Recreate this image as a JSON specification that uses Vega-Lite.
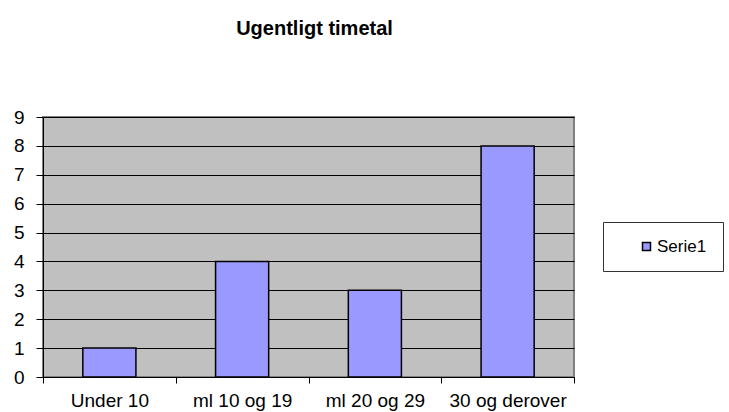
{
  "$schema": "https://vega.github.io/schema/vega-lite/v6.json",
  "autosize": "none",
  "width": 531,
  "height": 260,
  "padding": {"left": 43, "top": 117, "right": 155, "bottom": 35},
  "background": "white",
  "title": {
    "text": "Ugentligt timetal",
    "font": "Liberation Sans",
    "fontSize": 20,
    "fontWeight": "bold",
    "color": "black",
    "anchor": "middle",
    "frame": "group",
    "baseline": "alphabetic",
    "offset": 53,
    "dx": 6
  },
  "data": {
    "values": [
      {"kategori": "Under 10", "timer": 1, "serie": "Serie1"},
      {"kategori": "ml 10 og 19", "timer": 4, "serie": "Serie1"},
      {"kategori": "ml 20 og 29", "timer": 3, "serie": "Serie1"},
      {"kategori": "30 og derover", "timer": 8, "serie": "Serie1"}
    ]
  },
  "mark": {"type": "bar", "stroke": "black", "strokeWidth": 1.5, "width": {"band": 0.4}},
  "encoding": {
    "x": {
      "field": "kategori",
      "type": "nominal",
      "sort": null,
      "scale": {"paddingInner": 0, "paddingOuter": 0},
      "axis": {
        "title": null,
        "labelAngle": 0,
        "tickBand": "extent",
        "domainColor": "black",
        "tickColor": "black",
        "tickSize": 6,
        "labelFont": "Liberation Sans",
        "labelFontSize": 19,
        "labelColor": "black",
        "labelPadding": 8,
        "labelLimit": 200
      }
    },
    "y": {
      "field": "timer",
      "type": "quantitative",
      "scale": {"domain": [0, 9], "nice": false},
      "axis": {
        "title": null,
        "values": [0, 1, 2, 3, 4, 5, 6, 7, 8, 9],
        "grid": true,
        "gridColor": "black",
        "gridWidth": 1,
        "domainColor": "black",
        "tickColor": "black",
        "tickSize": 7,
        "labelFont": "Liberation Sans",
        "labelFontSize": 19,
        "labelColor": "black",
        "labelPadding": 12
      }
    },
    "color": {
      "field": "serie",
      "type": "nominal",
      "scale": {"domain": ["Serie1"], "range": ["#9999FF"]},
      "legend": {
        "title": null,
        "orient": "none",
        "legendX": 560,
        "legendY": 105,
        "padding": 16,
        "strokeColor": "#333333",
        "fillColor": "white",
        "symbolType": "square",
        "symbolSize": 64,
        "symbolStrokeColor": "black",
        "symbolStrokeWidth": 1.5,
        "symbolOffset": 19,
        "labelFont": "Liberation Sans",
        "labelFontSize": 17,
        "labelColor": "black",
        "labelOffset": 2
      }
    }
  },
  "config": {
    "view": {"fill": "#C0C0C0", "stroke": "#808080", "strokeWidth": 2}
  }
}
